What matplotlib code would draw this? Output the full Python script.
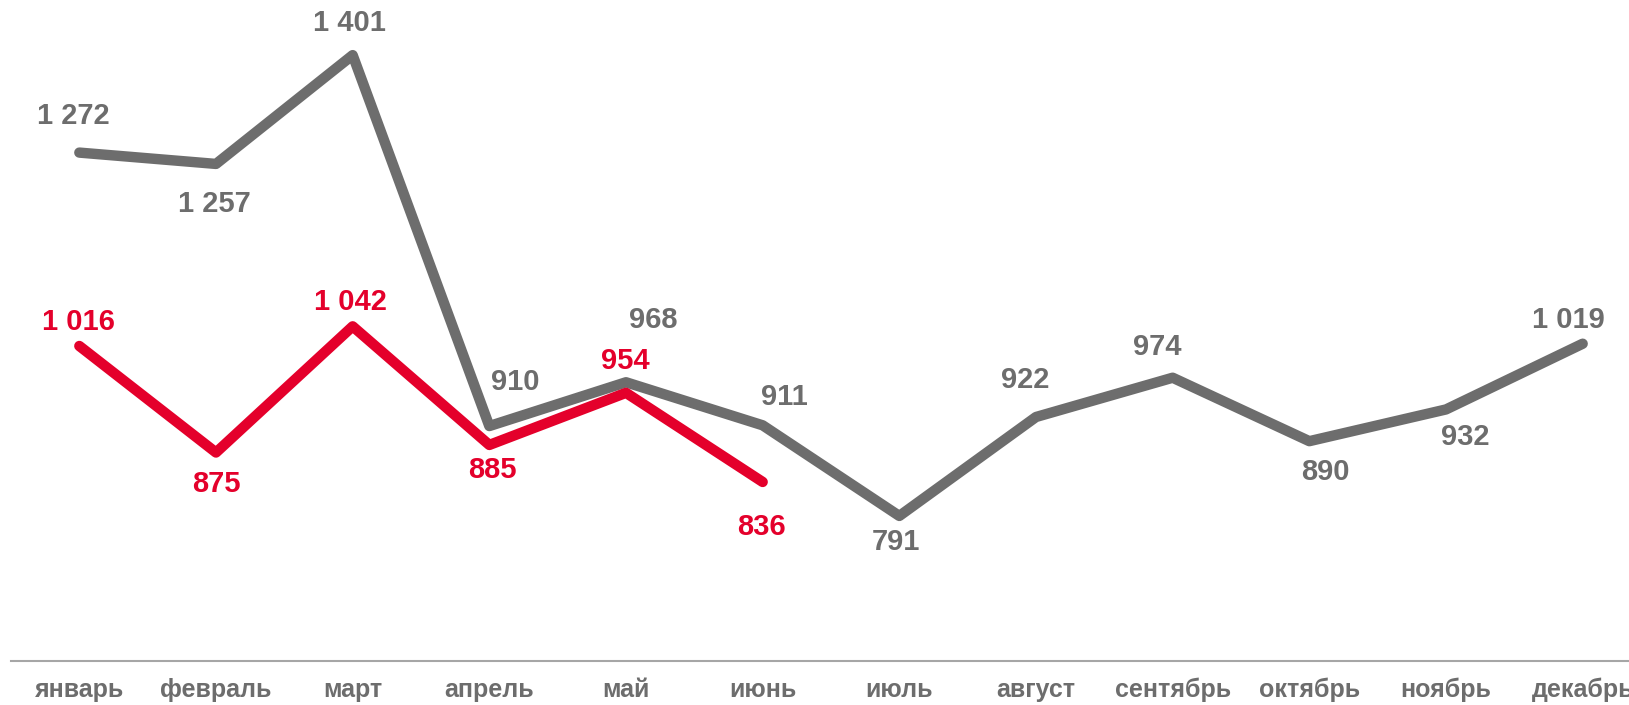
import matplotlib
matplotlib.use("Agg")
import matplotlib.pyplot as plt
from matplotlib import font_manager

months = ["январь", "февраль", "март", "апрель", "май", "июнь",
          "июль", "август", "сентябрь", "октябрь", "ноябрь", "декабрь"]
prev_year = [1272, 1257, 1401, 910, 968, 911, 791, 922, 974, 890, 932, 1019]
curr_year = [1016, 875, 1042, 885, 954, 836]

# label offsets in pixels (dx, dy), dy up
prev_off = [(-6, 37), (-2, -40), (-3, 32), (26, 44), (27, 62), (22, 28),
            (-3, -26), (-11, 37), (-15, 31), (16, -31), (19, -28), (-14, 24)]
curr_off = [(-1, 24), (0, -31), (-2, 24), (3, -25), (-1, 32), (-1, -45)]

GRAY = "#6d6d6d"
RED = "#e4002b"

names = {f.name for f in font_manager.fontManager.ttflist}
cat_family = ["Liberation Sans Narrow", "Liberation Sans"] if "Liberation Sans Narrow" in names else ["Liberation Sans"]

plt.rcParams["font.family"] = ["Liberation Sans", "DejaVu Sans"]

fig = plt.figure(figsize=(16.29, 7.05), dpi=100)
ax = fig.add_axes([11 / 1629, 44 / 705, 1640 / 1629, 661 / 705])

x = list(range(len(months)))
ax.plot(x, prev_year, color=GRAY, lw=7.5, solid_capstyle="round", solid_joinstyle="round", zorder=2)
ax.plot(x[:len(curr_year)], curr_year, color=RED, lw=7.5, solid_capstyle="round", solid_joinstyle="round", zorder=3)

def fmt(v):
    return f"{v:,}".replace(",", " ")

for xi, v, (dx, dy) in zip(x, prev_year, prev_off):
    ax.annotate(fmt(v), (xi, v), xytext=(dx, dy), textcoords="offset pixels",
                ha="center", va="center", fontsize=21, fontweight="bold", color=GRAY)
for xi, v, (dx, dy) in zip(x, curr_year, curr_off):
    ax.annotate(fmt(v), (xi, v), xytext=(dx, dy), textcoords="offset pixels",
                ha="center", va="center", fontsize=21, fontweight="bold", color=RED)

ax.set_xlim(-0.5, 11.5)
ax.set_ylim(599, 1474)
ax.set_xticks(x)
ax.set_xticklabels(months, family=cat_family, fontsize=18, fontweight="bold", color=GRAY)
ax.tick_params(axis="x", length=0, pad=12)
ax.set_yticks([])
for s in ["top", "left", "right"]:
    ax.spines[s].set_visible(False)
ax.spines["bottom"].set_color("#a6a6a6")
ax.spines["bottom"].set_linewidth(1.5)

fig.savefig("out.png", dpi=100)
